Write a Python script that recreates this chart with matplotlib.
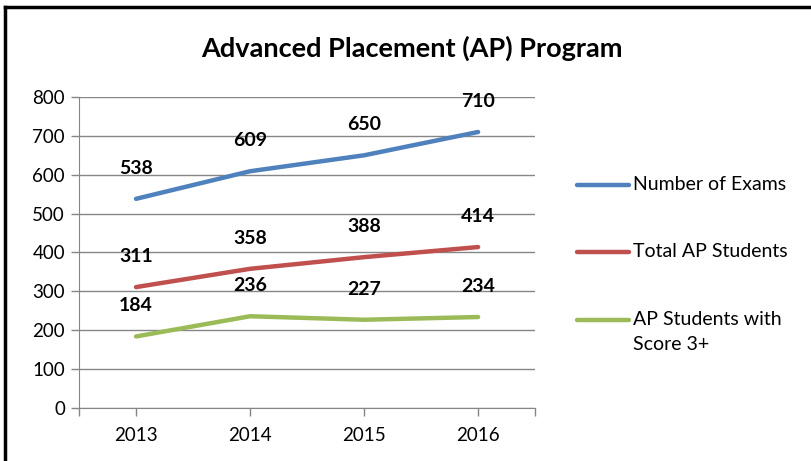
import matplotlib
matplotlib.use('Agg')
import matplotlib.pyplot as plt
from matplotlib.lines import Line2D

plt.rcParams['font.family'] = ['Lato', 'DejaVu Sans']

years = ['2013', '2014', '2015', '2016']
exams = [538, 609, 650, 710]
students = [311, 358, 388, 414]
score3 = [184, 236, 227, 234]

names = ['Number of Exams', 'Total AP Students', 'AP Students with\nScore 3+']
colors = ['#4F81BD', '#C0504D', '#9BBB59']

fig = plt.figure(figsize=(8.12, 4.61), dpi=100)
ax = fig.add_axes([0.0973, 0.115, 0.5617, 0.6746])

x = list(range(len(years)))
for vals, name, c in zip([exams, students, score3], names, colors):
    ax.plot(x, vals, color=c, lw=3.2, solid_capstyle='round', label=name)
    for xi, v in zip(x, vals):
        ax.annotate(str(v), (xi, v), xytext=(0, 22), textcoords='offset points',
                    ha='center', va='center', fontsize=14, fontweight='bold')

ax.set_xlim(-0.5, 3.5)
ax.set_ylim(0, 800)
ax.set_yticks(range(0, 801, 100))
ax.set_xticks(x)
ax.set_xticklabels(years)
ax.set_xticks([-0.5, 3.5], minor=True)
ax.tick_params(axis='both', which='both', direction='out', length=6, width=1,
               color='#868686', labelsize=13.5, pad=8)
ax.tick_params(axis='y', pad=4)
ax.yaxis.grid(True, color='#868686', lw=1)
ax.set_axisbelow(True)
for s in ['top', 'right']:
    ax.spines[s].set_visible(False)
for s in ['left', 'bottom']:
    ax.spines[s].set_color('#868686')

fig.text(0.507, 0.895, 'Advanced Placement (AP) Program', ha='center', va='center',
         fontsize=19.5, fontweight='bold')

# legend, drawn by hand so the two-line label lines up with its first line
leg_y = [0.5987, 0.4534, 0.3059]
for name, c, yy in zip(names, colors, leg_y):
    fig.add_artist(Line2D([0.710, 0.775], [yy, yy], transform=fig.transFigure,
                          color=c, lw=3.2, solid_capstyle='round'))
    lines = name.split('\n')
    for k, t in enumerate(lines):
        fig.text(0.7796, yy - k * 0.054, t, ha='left', va='center', fontsize=14)

# border of the chart area
fig.add_artist(Line2D([0.0065, 0.0065], [0, 0.985], transform=fig.transFigure, color='black', lw=2.5))
fig.add_artist(Line2D([0.0065, 1.0], [0.985, 0.985], transform=fig.transFigure, color='black', lw=2.5))

fig.savefig('out.png', dpi=100)
